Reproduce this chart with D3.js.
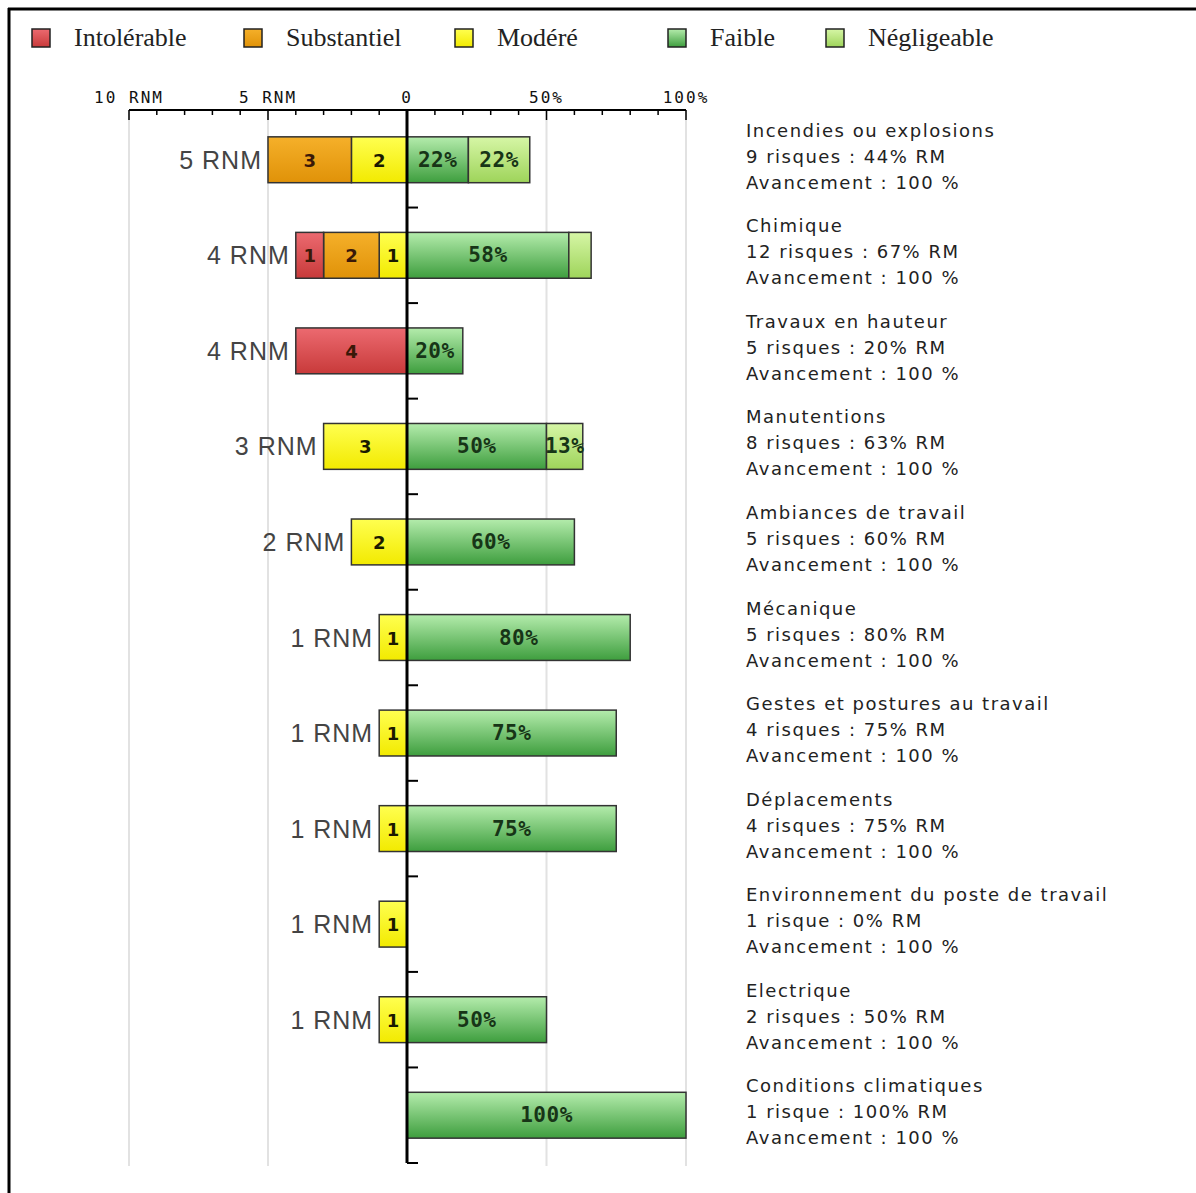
<!DOCTYPE html>
<html><head><meta charset="utf-8">
<script src="https://cdn.jsdelivr.net/npm/d3@7"></script>
<style>body{margin:0;background:#fff}svg{display:block}</style>
</head><body>
<script>
const categories = ["Incendies ou explosions","Chimique","Travaux en hauteur","Manutentions","Ambiances de travail","Mécanique","Gestes et postures au travail","Déplacements","Environnement du poste de travail","Electrique","Conditions climatiques"];
const risques = [9,12,5,8,5,5,4,4,1,2,1];
const rmPct = [44,67,20,63,60,80,75,75,0,50,100];
const avancement = [100,100,100,100,100,100,100,100,100,100,100];
const intolerable = [0,1,4,0,0,0,0,0,0,0,0];
const substantiel = [3,2,0,0,0,0,0,0,0,0,0];
const modere = [2,1,0,3,2,1,1,1,1,1,0];
const faible = [22,58,20,50,60,80,75,75,0,50,100];
const negligeable = [22,8,0,13,0,0,0,0,0,0,0];
const legendLabels = ["Intolérable","Substantiel","Modéré","Faible","Négligeable"];
const leftTicks = [10,5];
const rightTicks = [50,100];

const W = 1196, H = 1193;
const svg = d3.select("body").append("svg").attr("width", W).attr("height", H);
const defs = svg.append("defs");
const grads = {
  intol: ["#ec6a70", "#c83a3a"],
  subst: ["#f5b02a", "#e09208"],
  mod: ["#ffff50", "#f2ea00"],
  faib: ["#b4ecac", "#3e9e3e"],
  negl: ["#d6f6a6", "#9ed45a"]
};
Object.entries(grads).forEach(([k, c]) => {
  const g = defs.append("linearGradient").attr("id", "g_" + k).attr("x1", 0).attr("y1", 0).attr("x2", 0).attr("y2", 1);
  g.append("stop").attr("offset", "0%").attr("stop-color", c[0]);
  g.append("stop").attr("offset", "100%").attr("stop-color", c[1]);
});

// frame
svg.append("line").attr("x1", 8).attr("x2", W).attr("y1", 9).attr("y2", 9).attr("stroke", "#000").attr("stroke-width", 3);
svg.append("line").attr("x1", 9).attr("x2", 9).attr("y1", 8).attr("y2", H).attr("stroke", "#000").attr("stroke-width", 3);

// legend
const legendKeys = ["intol","subst","mod","faib","negl"];
const legendX = [32, 244, 455, 668, 826];
legendLabels.forEach((lab, i) => {
  svg.append("rect").attr("x", legendX[i]).attr("y", 29).attr("width", 18).attr("height", 18)
    .attr("fill", `url(#g_${legendKeys[i]})`).attr("stroke", "#222").attr("stroke-width", 1.5);
  svg.append("text").attr("x", legendX[i] + 42).attr("y", 46).text(lab)
    .attr("font-family", "Liberation Serif, serif").attr("font-size", 26).attr("fill", "#222");
});

const x0 = 407;
const xL = d3.scaleLinear().domain([0, 10]).range([x0, 129]);
const xR = d3.scaleLinear().domain([0, 100]).range([x0, 686]);
const y = d3.scaleBand().domain(categories).range([112, 1163]).paddingInner(0.52).paddingOuter(0.26);
const axisTop = 110, axisBottom = 1163;

// gridlines
const gridX = leftTicks.map(v => xL(v)).concat(rightTicks.map(v => xR(v)));
svg.selectAll(".grid").data(gridX).enter().append("line")
  .attr("x1", d => d).attr("x2", d => d).attr("y1", axisTop).attr("y2", 1166)
  .attr("stroke", "#e2e2e2").attr("stroke-width", 2);

// top axis
const axG = svg.append("g");
axG.append("line").attr("x1", xL(10)).attr("x2", xR(100)).attr("y1", axisTop).attr("y2", axisTop).attr("stroke", "#000").attr("stroke-width", 2);
const minorL = d3.range(1, 11), minorR = d3.range(10, 101, 10);
minorL.forEach(v => {
  const major = v % 5 === 0;
  axG.append("line").attr("x1", xL(v)).attr("x2", xL(v)).attr("y1", axisTop).attr("y2", axisTop + (major ? 10 : 5)).attr("stroke", "#000").attr("stroke-width", 1.5);
});
minorR.forEach(v => {
  const major = v % 50 === 0;
  axG.append("line").attr("x1", xR(v)).attr("x2", xR(v)).attr("y1", axisTop).attr("y2", axisTop + (major ? 10 : 5)).attr("stroke", "#000").attr("stroke-width", 1.5);
});
const tickFont = {"font-family": "DejaVu Sans Mono, monospace", "font-size": 16, "fill": "#111", "letter-spacing": 2};
function applyAttrs(sel, o) { Object.entries(o).forEach(([k, v]) => sel.attr(k, v)); return sel; }
leftTicks.forEach(v => applyAttrs(axG.append("text").attr("x", xL(v)).attr("y", 103).attr("text-anchor", "middle").text(v + " RNM"), tickFont));
applyAttrs(axG.append("text").attr("x", x0).attr("y", 103).attr("text-anchor", "middle").text("0"), tickFont);
rightTicks.forEach(v => applyAttrs(axG.append("text").attr("x", xR(v)).attr("y", 103).attr("text-anchor", "middle").text(v + "%"), tickFont));

// bars
const leftSeries = [["mod", modere], ["subst", substantiel], ["intol", intolerable]];
const rightSeries = [["faib", faible], ["negl", negligeable]];
const bh = y.bandwidth();
categories.forEach((cat, i) => {
  const yy = y(cat), cy = yy + bh / 2;
  let acc = 0;
  leftSeries.forEach(([k, arr]) => {
    const v = arr[i];
    if (!v) return;
    const xa = xL(acc + v), xb = xL(acc);
    svg.append("rect").attr("x", xa).attr("y", yy).attr("width", xb - xa).attr("height", bh)
      .attr("fill", `url(#g_${k})`).attr("stroke", "#333").attr("stroke-width", 1.5);
    svg.append("text").attr("x", (xa + xb) / 2).attr("y", cy + 7).attr("text-anchor", "middle")
      .attr("font-family", "DejaVu Sans, sans-serif").attr("font-weight", "bold").attr("font-size", 18)
      .attr("fill", k === "mod" ? "#1a1a00" : "#3a1808").text(v);
    acc += v;
  });
  if (acc > 0) {
    svg.append("text").attr("x", xL(acc) - 6).attr("y", cy + 9).attr("text-anchor", "end")
      .attr("font-family", "Liberation Sans, Arial, sans-serif").attr("font-size", 25).attr("letter-spacing", 1)
      .attr("fill", "#444").text(acc + " RNM");
  }
  let accR = 0;
  rightSeries.forEach(([k, arr]) => {
    const v = arr[i];
    if (!v) return;
    const xa = xR(accR), xb = xR(accR + v);
    svg.append("rect").attr("x", xa).attr("y", yy).attr("width", xb - xa).attr("height", bh)
      .attr("fill", `url(#g_${k})`).attr("stroke", "#333").attr("stroke-width", 1.5);
    if (v >= 10) {
      svg.append("text").attr("x", (xa + xb) / 2).attr("y", cy + 7).attr("text-anchor", "middle")
        .attr("font-family", "DejaVu Sans Mono, monospace").attr("font-weight", "bold").attr("font-size", 21)
        .attr("letter-spacing", 0.5).attr("fill", "#173517").text(v + "%");
    }
    accR += v;
  });
  // right info text
  const tx = 746;
  const lines = [cat, `${risques[i]} risque${risques[i] > 1 ? "s" : ""} : ${rmPct[i]}% RM`, `Avancement : ${avancement[i]} %`];
  lines.forEach((t, j) => {
    svg.append("text").attr("x", tx).attr("y", cy - 23 + j * 26).text(t)
      .attr("font-family", "DejaVu Sans, Verdana, sans-serif").attr("font-size", 18)
      .attr("letter-spacing", 1.5).attr("fill", "#222");
  });
});

// vertical axis
svg.append("line").attr("x1", x0).attr("x2", x0).attr("y1", axisTop).attr("y2", axisBottom).attr("stroke", "#000").attr("stroke-width", 3);
const bounds = categories.map(c => y(c) + bh / 2 + y.step() / 2);
svg.selectAll(".vt").data(bounds).enter().append("line")
  .attr("x1", x0).attr("x2", x0 + 11).attr("y1", d => d).attr("y2", d => d)
  .attr("stroke", "#000").attr("stroke-width", 2);
</script>
</body></html>
